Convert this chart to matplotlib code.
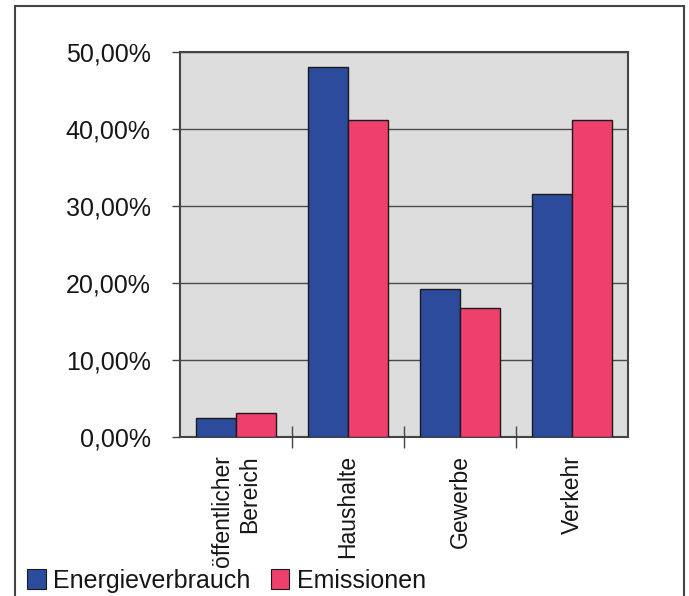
import numpy as np
import matplotlib.pyplot as plt
from matplotlib.lines import Line2D
from matplotlib.patches import Patch

plt.rcParams['font.family'] = ['Liberation Sans', 'DejaVu Sans']

bereiche = ['öffentlicher\nBereich', 'Haushalte', 'Gewerbe', 'Verkehr']
energieverbrauch = [2.5, 48.0, 19.2, 31.6]
emissionen = [3.1, 41.2, 16.7, 41.2]

blau = '#2c4b9c'
rot = '#ef3f6c'
schrift = '#161616'

fig = plt.figure(figsize=(6.89, 5.96), dpi=100)
ax = fig.add_axes([180 / 689, 1 - 437 / 596, 448 / 689, 385 / 596])
ax.set_facecolor('#dddddd')

x = np.arange(len(bereiche))
w = 0.355
ax.bar(x - w / 2, energieverbrauch, w, color=blau, edgecolor='#1a1a1a', linewidth=1, zorder=3)
ax.bar(x + w / 2, emissionen, w, color=rot, edgecolor='#1a1a1a', linewidth=1, zorder=3)

ax.set_xlim(-0.5, 3.5)
ax.set_ylim(0, 50)
ax.set_yticks(np.arange(0, 51, 10))
ax.set_yticklabels(['%d,00%%' % v for v in range(0, 51, 10)], fontsize=18, color=schrift)
ax.yaxis.grid(True, color='#4a4a4a', linewidth=1, zorder=1)
ax.tick_params(axis='y', length=6, width=1, color='#444444', pad=15)

ax.set_xticks(x)
ax.set_xticklabels(bereiche, rotation=90, fontsize=16.5, color=schrift,
                   va='top', ha='center', multialignment='right')
ax.tick_params(axis='x', length=0, pad=13)
ax.set_xticks([0.5, 1.5, 2.5], minor=True)
ax.tick_params(axis='x', which='minor', direction='inout', length=16, width=1, color='#444444')

for s in ax.spines.values():
    s.set_color('#444444')
    s.set_linewidth(1.5)

# Rahmen um die ganze Grafik
rahmen = [([15 / 689, 15 / 689], [-0.1, 1 - 6 / 596]),
          ([15 / 689, 684 / 689], [1 - 6 / 596, 1 - 6 / 596]),
          ([684 / 689, 684 / 689], [1 - 6 / 596, -0.1])]
for xs, ys in rahmen:
    fig.add_artist(Line2D(xs, ys, transform=fig.transFigure, color='#444444', linewidth=1.5))

handles = [Patch(facecolor=blau, edgecolor='#1a1a1a', linewidth=0.8, label='Energieverbrauch'),
           Patch(facecolor=rot, edgecolor='#1a1a1a', linewidth=0.8, label='Emissionen')]
leg = fig.legend(handles=handles, loc='lower left', bbox_to_anchor=(12 / 689, -12 / 596), ncol=2,
                 frameon=False, fontsize=18, handlelength=0.75, handleheight=0.85,
                 handletextpad=0.3, columnspacing=0.8, borderaxespad=0.2)
for t in leg.get_texts():
    t.set_color(schrift)

fig.savefig('out.png', dpi=100)
